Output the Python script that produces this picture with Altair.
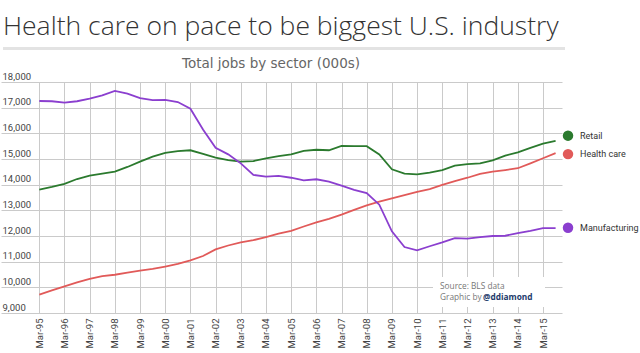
import altair as alt
import pandas as pd

# ---- data (000s of jobs), semi-annual: Mar-95, Sep-95, ..., Mar-15, Sep-15 ----
periods = pd.date_range("1995-03-01", periods=42, freq="6MS")

retail = [13810, 13910, 14030, 14220, 14350, 14430, 14510, 14690, 14900, 15090,
          15240, 15310, 15340, 15200, 15050, 14960, 14900, 14920, 15020, 15110,
          15180, 15320, 15360, 15340, 15510, 15500, 15500, 15180, 14600, 14430,
          14400, 14470, 14570, 14740, 14800, 14830, 14950, 15130, 15260, 15430,
          15600, 15710]
health_care = [9720, 9880, 10040, 10190, 10330, 10440, 10490, 10570, 10650, 10720,
               10810, 10910, 11050, 11220, 11480, 11630, 11750, 11840, 11960, 12090,
               12200, 12370, 12530, 12670, 12830, 13020, 13190, 13340, 13470, 13590,
               13720, 13830, 13990, 14140, 14270, 14420, 14510, 14570, 14640, 14830,
               15030, 15230]
manufacturing = [17260, 17250, 17200, 17250, 17350, 17480, 17650, 17550, 17370, 17290,
                 17300, 17220, 16960, 16150, 15440, 15180, 14830, 14380, 14310, 14340,
                 14270, 14170, 14210, 14120, 13960, 13800, 13670, 13220, 12180, 11570,
                 11440, 11600, 11750, 11920, 11900, 11960, 12000, 12010, 12110, 12200,
                 12310, 12310]

sectors = ["Retail", "Health care", "Manufacturing"]
colors = ["#2b7a2e", "#e15a59", "#8b3fcf"]
legend_anchor = [15910, 15190, 12320]
tick_years = list(range(1995, 2016))
y_ticks = list(range(9000, 18001, 1000))

title_text = "Health care on pace to be biggest U.S. industry"
subtitle_text = "Total jobs by sector (000s)"
source_text = "Source: BLS data"
credit_text = "Graphic by"
handle_text = "@ddiamond"

# ---- build table ----
t = [d.year + (d.month - 1) / 12 for d in periods]
rows = []
for name, vals in zip(sectors, [retail, health_care, manufacturing]):
    for ti, v in zip(t, vals):
        rows.append({"t": ti, "value": v, "sector": name})
df = pd.DataFrame(rows)

mar = 2 / 12
x_scale = alt.Scale(domain=[1993.646, 2015.921], nice=False, zero=False)
y_scale = alt.Scale(domain=[9000, 18000], nice=False, zero=False)
color_scale = alt.Scale(domain=sectors, range=colors)

x_axis = alt.Axis(
    values=[round(y + mar, 4) for y in tick_years],
    labelExpr="'Mar-' + slice(toString(floor(datum.value)), 2)",
    labelAngle=270, labelAlign="right", labelBaseline="middle",
    labelPadding=5, labelFont="Roboto", labelFontSize=9.5, labelColor="#444",
    labelOverlap=False, labelFlush=False,
    ticks=False, tickSize=0, domain=False, grid=True,
    gridColor="#cacaca", gridWidth=1, title=None,
)
y_axis = alt.Axis(
    values=y_ticks, format=",d",
    labelAlign="left", labelBaseline="alphabetic", labelOffset=-3,
    labelPadding=-1, labelFont="Roboto", labelFontSize=9.5, labelColor="#444",
    labelOverlap=False, labelFlush=False,
    ticks=False, tickSize=0, domain=False, grid=True,
    gridColor="#cacaca", gridWidth=1, title=None,
)

X = alt.X("t:Q", scale=x_scale, axis=x_axis)
Y = alt.Y("value:Q", scale=y_scale, axis=y_axis)

lines = alt.Chart(df).mark_line(strokeWidth=1.8).encode(
    x=X, y=Y,
    color=alt.Color("sector:N", scale=color_scale, legend=None),
    detail="sector:N",
)

leg_df = pd.DataFrame({"sector": sectors, "value": legend_anchor,
                       "t": [2016.16] * 3})
leg_pts = alt.Chart(leg_df).mark_point(filled=True, size=110, opacity=1).encode(
    x=X, y=Y,
    color=alt.Color("sector:N", scale=color_scale, legend=None),
)
leg_txt = alt.Chart(leg_df).mark_text(
    align="left", baseline="middle", dx=12, font="Roboto", fontSize=9, color="#333"
).encode(x=X, y=Y, text="sector:N")

box = alt.Chart(pd.DataFrame({"k": [0]})).mark_rect(color="white").encode(
    x=alt.value(432), x2=alt.value(544), y=alt.value(195), y2=alt.value(225)
)

def label(text, x, y, **kw):
    return alt.Chart(pd.DataFrame({"label": [text]})).mark_text(**kw).encode(
        x=alt.value(x), y=alt.value(y), text="label:N"
    )

title = label(title_text, 2, -47, align="left", baseline="alphabetic",
              font="Open Sans", fontWeight=300, fontSize=26.5, color="#333")
subtitle = label(subtitle_text, 270, -14, align="center", baseline="alphabetic",
                 font="DejaVu Sans", fontSize=13.5, color="#666")
source = label(source_text, 439, 207, align="left", baseline="alphabetic",
               font="Open Sans", fontSize=8.3, color="#777")
credit = label(credit_text, 439, 218, align="left", baseline="alphabetic",
               font="Open Sans", fontSize=8.3, color="#777")
handle = label(handle_text, 482, 218, align="left", baseline="alphabetic",
               font="Open Sans", fontSize=8.3, fontWeight="bold", color="#1d3a6b")

sep_rule = alt.Chart(pd.DataFrame({"k": [0]})).mark_rule(
    color="#e3e3e3", strokeWidth=3
).encode(x=alt.value(2), x2=alt.value(564), y=alt.value(-33.5))

chart = alt.layer(
    lines, box, source, credit, handle, leg_pts, leg_txt, title, sep_rule, subtitle
).properties(
    width=561, height=231,
    padding={"left": 1, "top": 82, "right": 78, "bottom": 40},
    autosize=alt.AutoSizeParams(type="none"),
    background="white",
).configure_view(stroke=None).configure_axis(labelOverlap=False)

chart.save("out.html", embed_options={"renderer": "svg", "actions": False})
